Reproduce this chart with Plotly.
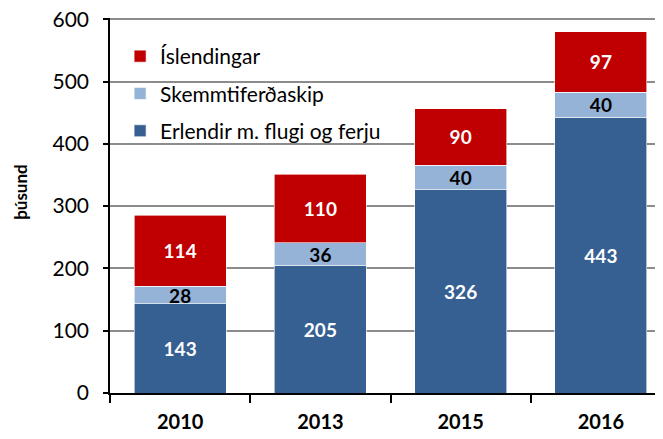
import plotly.graph_objects as go

years = ["2010", "2013", "2015", "2016"]
erlendir = [143, 205, 326, 443]
skemmti = [28, 36, 40, 40]
islendingar = [114, 110, 90, 97]

names = ["Erlendir m. flugi og ferju", "Skemmtiferðaskip", "Íslendingar"]
colors = ["#376092", "#95B3D7", "#C00000"]
label_colors = ["white", "black", "white"]
ranks = [3, 2, 1]
series = [erlendir, skemmti, islendingar]

FONT = "Lato"

fig = go.Figure()
for i, (nm, vals) in enumerate(zip(names, series)):
    fig.add_trace(go.Bar(
        x=years, y=vals, name=nm,
        marker=dict(color=colors[i], line=dict(color="white", width=0.6)),
        text=[str(v) for v in vals], textposition="inside",
        insidetextanchor="middle", textangle=0,
        textfont=dict(family=FONT, size=19, color=label_colors[i], weight="bold"),
        legendgroup=str(i), legendrank=ranks[i],
    ))

fig.update_layout(
    barmode="stack",
    bargap=0.345,
    width=663, height=439,
    margin=dict(l=102, r=0, t=10, b=54, autoexpand=False),
    paper_bgcolor="white", plot_bgcolor="white",
    font=dict(family=FONT, size=18, color="black"),
    uniformtext=dict(mode="show", minsize=19),
    legend=dict(
        x=0.018, y=0.952, xanchor="left", yanchor="top",
        traceorder="grouped", tracegroupgap=7,
        bgcolor="rgba(0,0,0,0)",
        font=dict(family=FONT, size=21, color="black"),
    ),
    showlegend=True,
)

fig.update_xaxes(
    type="category", range=[-0.5, 3.5], automargin=False,
    showline=True, linecolor="black", linewidth=1.5,
    ticks="outside", tickson="boundaries", ticklen=8, tickwidth=1.5, tickcolor="black",
    tickfont=dict(family=FONT, size=20, color="black", weight="bold"),
    ticklabelstandoff=10,
    showgrid=False,
)
fig.update_yaxes(
    range=[0, 602], tickvals=[0, 100, 200, 300, 400, 500, 600], automargin=False,
    showline=True, linecolor="black", linewidth=1.5,
    ticks="outside", ticklen=5, tickwidth=1.5, tickcolor="black",
    tickfont=dict(family=FONT, size=21, color="black"),
    ticklabelstandoff=10, ticklabeloverflow="allow",
    showgrid=True, gridcolor="#8c8c8c", gridwidth=1.5,
    zeroline=False,
)

fig.add_annotation(
    text="þúsund", xref="paper", yref="paper",
    x=-0.160, y=0.537, xanchor="center", yanchor="middle",
    textangle=-90, showarrow=False,
    font=dict(family=FONT, size=17, color="black", weight="bold"),
)

fig.write_html("out.html")
